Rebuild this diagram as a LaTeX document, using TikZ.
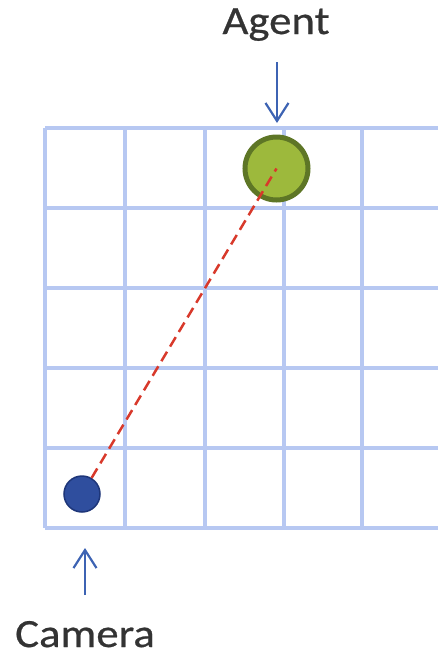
\documentclass[tikz,border=0pt]{standalone}
\usepackage{fontspec}
\newfontfamily\labelfont{Carlito}[FakeStretch=1.12,FakeBold=0.6]
\usetikzlibrary{arrows.meta}

\definecolor{gridblue}{HTML}{B7C8F2}
\definecolor{arrowblue}{HTML}{3D63B3}
\definecolor{agentfill}{HTML}{9DB93C}
\definecolor{agentrim}{HTML}{5E7626}
\definecolor{camfill}{HTML}{2F4E9E}
\definecolor{camrim}{HTML}{1E3679}
\definecolor{sightred}{HTML}{D8392B}
\definecolor{textgray}{HTML}{333333}

\tikzset{
  gridline/.style={draw=gridblue, line width=3.5pt},
  pointer/.style={draw=arrowblue, line width=2.2pt, -{Straight Barb[length=18pt,width=23pt,line width=2.2pt]}},
  label/.style={font=\labelfont\fontsize{40}{40}\selectfont, text=textgray, anchor=base, inner sep=0pt},
}

\begin{document}
\begin{tikzpicture}[x=1pt,y=-1pt]
  \useasboundingbox (0,0) rectangle (438,657);

  % grid
  \foreach \y in {128,208,288,368,448,528}
    \draw[gridline] (45,\y) -- (438,\y);
  \foreach \x in {45,125,205,284,362}
    \draw[gridline] (\x,128) -- (\x,528);

  % agent and camera
  \node[circle, fill=agentfill, draw=agentrim, line width=5pt, minimum size=63pt, inner sep=0pt] (agent) at (276.5,168.5) {};
  \node[circle, fill=camfill, draw=camrim, line width=1.5pt, minimum size=36pt, inner sep=0pt] (camera) at (82,494) {};

  % line of sight
  \draw[sightred, line width=2.5pt, dash pattern=on 11pt off 6pt] (camera) -- (agent.center);

  % labels
  \node[label] (agentlabel) at (276,34) {Agent};
  \node[label] (cameralabel) at (85,647) {Camera};

  \coordinate (agenttail) at (277,62);
  \coordinate (agenttip) at (277,123);
  \coordinate (camtail) at (85,595);
  \coordinate (camtip) at (85,548);
  \draw[pointer] (agenttail) -- (agenttip);
  \draw[pointer] (camtail) -- (camtip);
\end{tikzpicture}
\end{document}
